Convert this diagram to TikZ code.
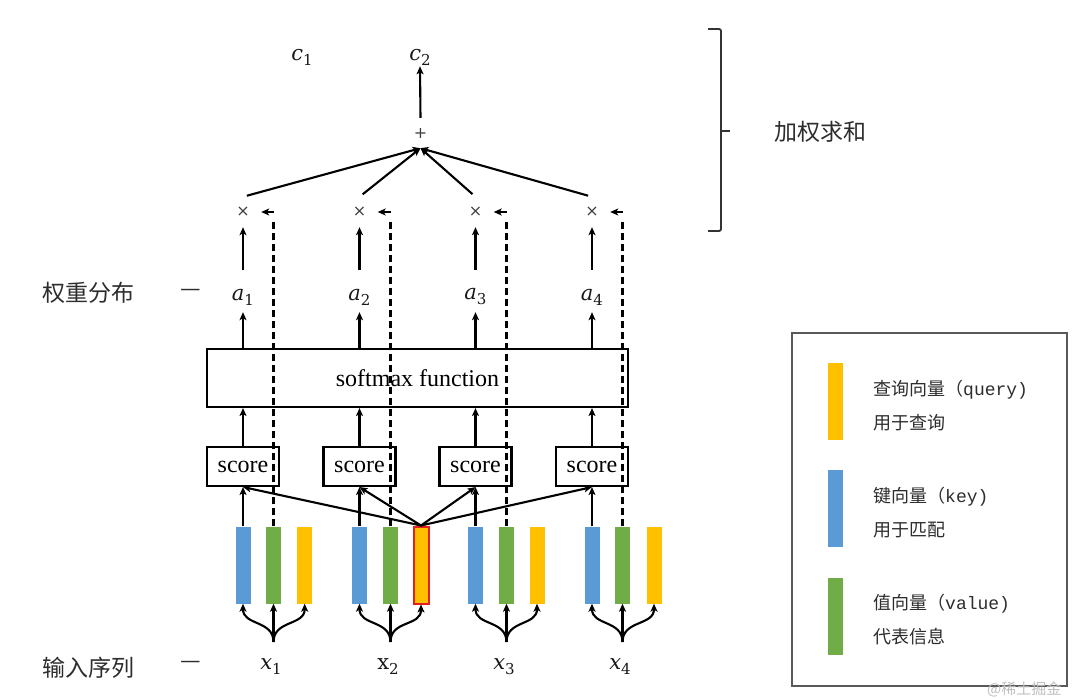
\documentclass[tikz,border=0pt]{standalone}
\usepackage{fontspec}
\setmainfont{Liberation Serif}
\newfontfamily\cjk{Noto Sans CJK SC}
\newfontfamily\lmono{Liberation Mono}
\newfontfamily\djv{DejaVu Sans}
\newfontfamily\djs{DejaVu Serif}
\usetikzlibrary{arrows.meta}
\definecolor{kblue}{RGB}{91,155,213}
\definecolor{vgreen}{RGB}{112,173,71}
\definecolor{qyellow}{RGB}{255,192,0}
\definecolor{txt}{RGB}{45,45,45}
\definecolor{qred}{RGB}{230,30,30}
\newcommand{\vlab}[2]{{\djs\itshape #1}\raisebox{-5pt}{\fontsize{15}{17}\selectfont\djs #2}}
\newcommand{\vlabu}[2]{{\djs #1}\raisebox{-5pt}{\fontsize{15}{17}\selectfont\djs #2}}
\begin{document}
\begin{tikzpicture}[x=1pt,y=-1pt,
  arr/.style={-{Stealth[length=8pt,width=7pt,inset=2pt]}, line width=2.1pt},
  dashline/.style={line width=2.1pt, dash pattern=on 7pt off 4pt},
  vecbar/.style={minimum width=15pt, minimum height=77pt, inner sep=0pt, draw=none},
  mathlbl/.style={font=\fontsize{21}{25}\selectfont, inner sep=1pt, text=black!90},
  alabel/.style={mathlbl, minimum height=30pt},
  opnode/.style={font=\djv\fontsize{16}{18}\selectfont, text=black!75, minimum width=36pt, minimum height=30pt, inner sep=0pt},
  scorebox/.style={draw, line width=2.1pt, minimum width=72pt, minimum height=39pt, inner sep=0pt, font=\fontsize{24}{28}\selectfont},
  cjklabel/.style={font=\cjk\fontsize{23}{26}\selectfont, text=txt, inner sep=0pt},
  legtext/.style={font=\cjk\fontsize{18}{22}\selectfont, text=txt, inner sep=0pt, anchor=west},
]
\useasboundingbox[fill=white] (0,0) rectangle (1080,698);

% outputs
\node[mathlbl] (c1) at (302,57) {\vlab{c}{1}};
\node[mathlbl] (c2) at (420,57) {\vlab{c}{2}};
\node[opnode] (plus) at (420.5,133) {+};
\draw[arr] (plus.north) -- (c2.south);

% group positions
\def\gxA{243}\def\gxB{359.5}\def\gxC{475.5}\def\gxD{592}

% multiply nodes
\node[opnode] (m1) at (\gxA,212) {×};
\node[opnode] (m2) at (\gxB,212) {×};
\node[opnode] (m3) at (\gxC,212) {×};
\node[opnode] (m4) at (\gxD,212) {×};

% weights
\node[alabel] (a1) at (\gxA,297) {\vlab{a}{1}};
\node[alabel] (a2) at (\gxB,297) {\vlab{a}{2}};
\node[alabel] (a3) at (\gxC,297) {\vlab{a}{3}};
\node[alabel] (a4) at (\gxD,297) {\vlab{a}{4}};

% softmax
\node[draw, line width=2.1pt, minimum width=421pt, minimum height=58pt, inner sep=0pt,
      font=\fontsize{24}{28}\selectfont] (sm) at (417.5,378) {softmax function};

% score boxes
\node[scorebox] (s1) at (\gxA,466.5) {score};
\node[scorebox] (s2) at (\gxB,466.5) {score};
\node[scorebox] (s3) at (\gxC,466.5) {score};
\node[scorebox] (s4) at (\gxD,466.5) {score};

% vectors
\node[vecbar, fill=kblue] (b1) at (243,565) {};
\node[vecbar, fill=vgreen] (g1) at (273.5,565) {};
\node[vecbar, fill=qyellow] (q1) at (304.7,565) {};
\node[vecbar, fill=kblue] (b2) at (359.5,565) {};
\node[vecbar, fill=vgreen] (g2) at (390.5,565) {};
\node[vecbar, fill=qyellow, draw=qred, line width=2pt, minimum width=15pt] (q2) at (421,565) {};
\node[vecbar, fill=kblue] (b3) at (475.5,565) {};
\node[vecbar, fill=vgreen] (g3) at (506.5,565) {};
\node[vecbar, fill=qyellow] (q3) at (537,565) {};
\node[vecbar, fill=kblue] (b4) at (592,565) {};
\node[vecbar, fill=vgreen] (g4) at (622.5,565) {};
\node[vecbar, fill=qyellow] (q4) at (654,565) {};

% input labels and fork points
\node[mathlbl] (x1) at (271,667) {\vlab{x}{1}};
\node[mathlbl] (x2) at (388,667) {\vlabu{x}{2}};
\node[mathlbl] (x3) at (504,667) {\vlab{x}{3}};
\node[mathlbl] (x4) at (620,667) {\vlab{x}{4}};
\coordinate (f1) at (273.5,642);
\coordinate (f2) at (390.5,642);
\coordinate (f3) at (506.5,642);
\coordinate (f4) at (622.5,642);

\foreach \i in {1,2,3,4} {
  % forks
  \draw[arr] (f\i) -- (g\i.south);
  \draw[arr] (f\i) .. controls +(0,-22) and +(0,22) .. (b\i.south);
  \draw[arr] (f\i) .. controls +(0,-22) and +(0,22) .. (q\i.south);
  % keys to score
  \draw[arr] (b\i.north) -- (s\i.south);
  % query to score
  \draw[arr] (q2.north) -- (s\i.south);
  % score to softmax
  \draw[arr] (s\i.north) -- (s\i.north |- sm.south);
  % softmax to weights
  \draw[arr] (sm.north -| a\i) -- (a\i.south);
  % weights to multiply
  \draw[arr, shorten <=12pt] (a\i.north) -- (m\i.south);
  % values (dashed) to multiply
  \coordinate (k\i) at (g\i.north |- m\i.east);
  \draw[dashline, shorten >=7pt] (g\i.north) -- (k\i);
  \draw[arr] (k\i) -- (m\i.east);
  % multiply to sum
  \draw[arr, shorten <=4pt] (m\i.north) -- (plus.south);
}

% left labels
\node[cjklabel] (lw) at (88,293) {权重分布};
\node[cjklabel] (lwd) at (191,293) {—};
\node[cjklabel] (li) at (88,668) {输入序列};
\node[cjklabel] (lid) at (191,665) {—};

% bracket
\coordinate (br1) at (708,29);
\coordinate (br2) at (721,29);
\coordinate (br3) at (721,231);
\coordinate (br4) at (708,231);
\coordinate (brm) at (721,131);
\coordinate (brt) at (730,131);
\draw[line width=1.8pt, rounded corners=2pt, black!80] (br1) -- (br2) -- (br3) -- (br4);
\draw[line width=1.8pt, black!80] (brm) -- (brt);
\node[cjklabel] (wsum) at (820,132) {加权求和};

% legend
\draw[line width=1.6pt, black!65] (791.7,332.7) rectangle (1067,686);
\node[vecbar, fill=qyellow] (lq) at (835.5,401) {};
\node[vecbar, fill=kblue] (lk) at (835.5,508.5) {};
\node[vecbar, fill=vgreen] (lv) at (835.5,616) {};
\node[legtext] (tq1) at (873,390) {查询向量（{\lmono query)}};
\node[legtext] (tq2) at (873,423) {用于查询};
\node[legtext] (tk1) at (873,497) {键向量（{\lmono key)}};
\node[legtext] (tk2) at (873,530) {用于匹配};
\node[legtext] (tv1) at (873,604) {值向量（{\lmono value)}};
\node[legtext] (tv2) at (873,637) {代表信息};

% watermark
\node[font=\cjk\fontsize{15}{18}\selectfont, text=black!25, anchor=west, inner sep=0pt] (wm) at (987,689) {@稀土掘金};
\end{tikzpicture}
\end{document}
